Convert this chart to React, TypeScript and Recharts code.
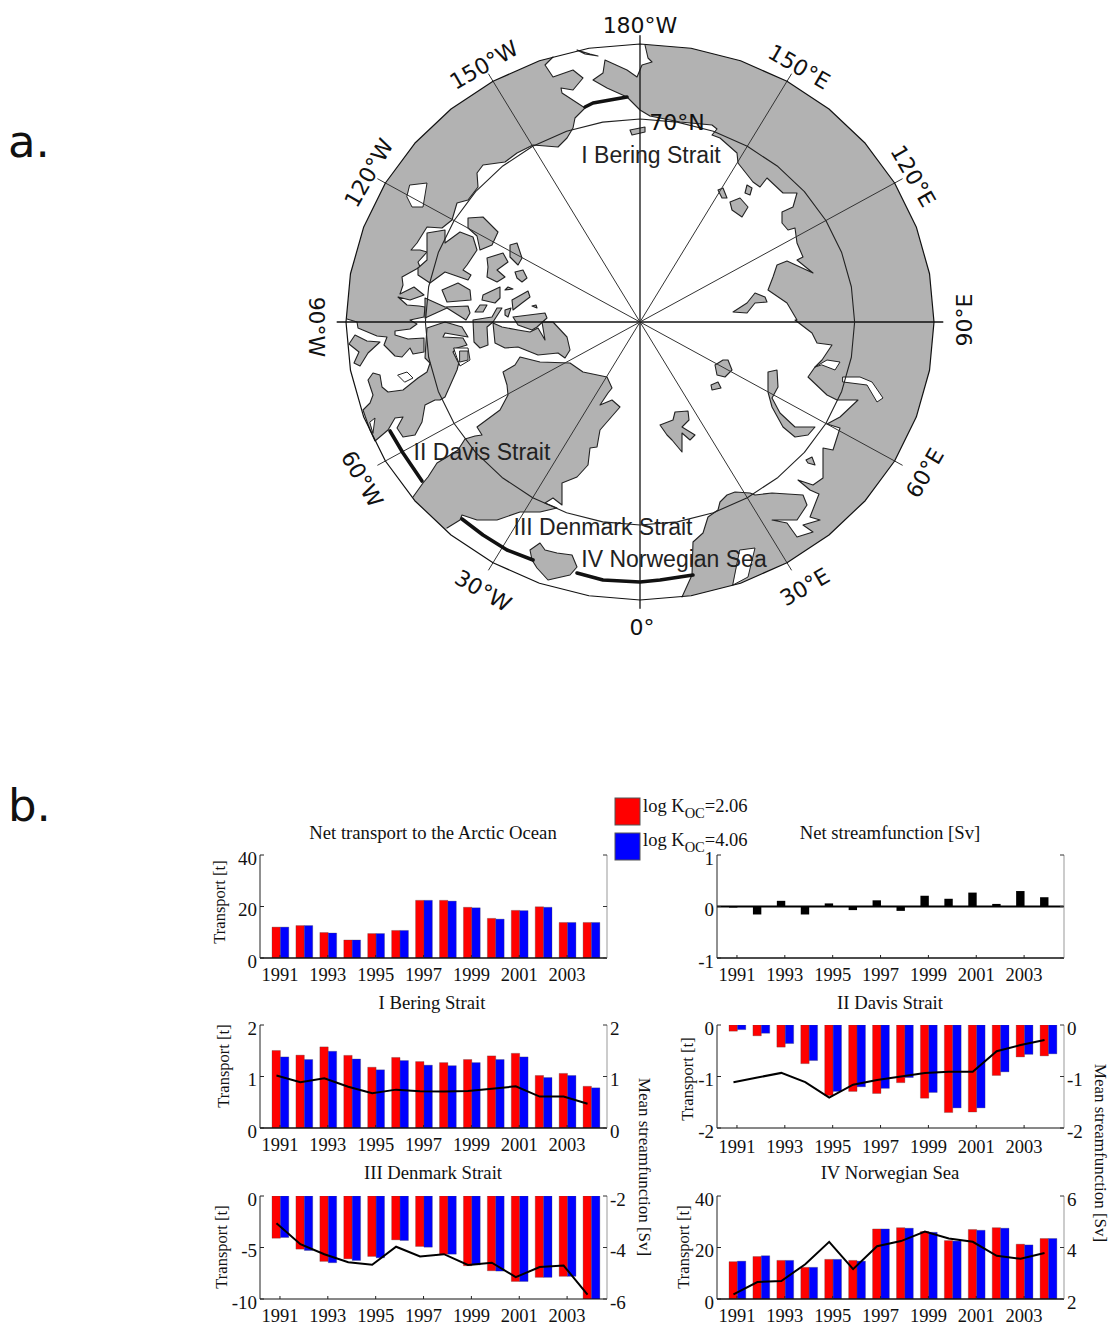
import { Bar, ComposedChart, Line, ReferenceLine, Scatter, ScatterChart, XAxis, YAxis } from "recharts";

// ---- panel b: values ----
const years = [1991, 1992, 1993, 1994, 1995, 1996, 1997, 1998, 1999, 2000, 2001, 2002, 2003, 2004];

const netRed = [12.0, 12.6, 9.9, 7.0, 9.5, 10.7, 22.4, 22.4, 19.7, 15.4, 18.5, 19.9, 13.8, 13.8];
const netBlue = [12.0, 12.6, 9.7, 7.0, 9.5, 10.7, 22.4, 22.1, 19.5, 15.1, 18.4, 19.7, 13.8, 13.8];
const netStream = [-0.02, -0.155, 0.11, -0.155, 0.06, -0.07, 0.12, -0.085, 0.21, 0.15, 0.27, 0.05, 0.3, 0.18];

const beringRed = [1.505, 1.415, 1.575, 1.41, 1.18, 1.37, 1.29, 1.27, 1.33, 1.4, 1.45, 1.02, 1.06, 0.81];
const beringBlue = [1.38, 1.33, 1.49, 1.34, 1.13, 1.31, 1.22, 1.21, 1.27, 1.33, 1.38, 0.98, 1.02, 0.78];
const beringLine = [1.02, 0.89, 0.965, 0.8, 0.675, 0.745, 0.715, 0.71, 0.72, 0.76, 0.81, 0.61, 0.61, 0.47];

const davisRed = [-0.12, -0.21, -0.43, -0.75, -1.37, -1.29, -1.33, -1.12, -1.42, -1.7, -1.69, -0.98, -0.62, -0.6];
const davisBlue = [-0.09, -0.16, -0.36, -0.69, -1.29, -1.2, -1.23, -1.02, -1.31, -1.61, -1.61, -0.91, -0.57, -0.56];
const davisLine = [-1.11, -1.02, -0.93, -1.11, -1.41, -1.16, -1.07, -1.0, -0.93, -0.91, -0.91, -0.51, -0.39, -0.29];

const denmarkRed = [-4.1, -5.16, -6.35, -6.1, -5.87, -4.26, -4.9, -5.65, -6.77, -7.26, -8.29, -7.9, -7.8, -10];
const denmarkBlue = [-4.03, -5.29, -6.48, -6.26, -6.0, -4.32, -4.97, -5.65, -6.7, -7.29, -8.29, -7.9, -7.8, -10];
const denmarkLine = [-3.06, -3.87, -4.26, -4.57, -4.67, -3.97, -4.35, -4.26, -4.68, -4.59, -5.15, -4.76, -4.7, -5.83];

const norwayRed = [14.5, 16.5, 15.0, 12.3, 15.4, 15.0, 27.2, 27.7, 26.2, 22.7, 27.0, 27.7, 21.3, 23.5];
const norwayBlue = [14.7, 16.8, 15.0, 12.3, 15.4, 14.7, 27.2, 27.5, 25.9, 22.5, 26.7, 27.5, 21.0, 23.5];
const norwayLine = [2.18, 2.66, 2.7, 3.35, 4.22, 3.16, 4.05, 4.25, 4.62, 4.35, 4.22, 3.68, 3.56, 3.79];

// ---- panel a: outlines on the map plane, pole at 0,0 ----
type P = [number, number];

const eurasiaCoast: P[] = [
  [5, -277], [8, -264], [12, -260], [2, -257], [-3, -245], [-13, -252], [-35, -262], [-37, -249], [-47, -242],
  [-33, -234], [-13, -225], [0, -212], [10, -206], [40, -200], [72, -197], [77, -193], [72, -187], [80, -184],
  [97, -169], [98, -159], [113, -140], [120, -135], [127, -144], [143, -129], [157, -129], [153, -115], [142, -110],
  [142, -99], [148, -92], [155, -94], [157, -79], [163, -65], [157, -62], [173, -49], [147, -61], [137, -57],
  [133, -45], [128, -32], [147, -19], [157, -2], [155, -2], [172, 11], [177, 21], [192, 23], [182, 38], [175, 45],
  [168, 55], [187, 73], [197, 78], [218, 78], [200, 95], [187, 102], [200, 106], [193, 128], [183, 126], [183, 156],
  [173, 163], [158, 158], [170, 168], [179, 172], [170, 195], [180, 198], [163, 203], [173, 210], [157, 215],
  [147, 201], [132, 198], [157, 198], [167, 183], [163, 173], [132, 171], [115, 173], [110, 171], [95, 170],
  [87, 173], [80, 180], [78, 188], [68, 195], [63, 211], [53, 220], [52, 253], [42, 275],
];
const atlanticRim: P[] = [[0, 284], [-60, 277], [-120, 260], [-160, 239], [-196, 212]];
const greenlandCoast: P[] = [
  [-193, 206], [-180, 198], [-178, 193], [-163, 198], [-143, 198], [-120, 190], [-100, 190], [-83, 186], [-95, 181],
  [-87, 176], [-78, 183], [-78, 161], [-63, 155], [-52, 143], [-50, 126], [-43, 125], [-40, 108], [-20, 85], [-28, 78],
  [-40, 83], [-32, 71], [-28, 66], [-33, 55], [-57, 50], [-70, 41], [-100, 40], [-120, 35], [-125, 43], [-137, 50],
  [-133, 63], [-132, 73], [-140, 88], [-163, 105], [-158, 113], [-165, 114], [-175, 117], [-182, 128], [-193, 135],
  [-203, 141], [-212, 155], [-217, 161], [-227, 175],
];
const labradorRim: P[] = [[-232, 180], [-252, 154], [-270, 122], [-288, 70], [-297, 30], [-297, -3]];
const americaCoast: P[] = [
  [-293, -3], [-283, 0], [-282, 6], [-263, 14], [-253, 15], [-256, 23], [-245, 34], [-238, 35], [-230, 26], [-227, 32],
  [-216, 30], [-216, 16], [-232, 17], [-245, 13], [-245, 9], [-230, 7], [-223, 2], [-230, -2], [-216, -5], [-215, -15],
  [-221, -16], [-233, -17], [-242, -25], [-230, -22], [-216, -27], [-226, -35], [-240, -28], [-237, -37], [-238, -45],
  [-220, -55], [-222, -60], [-213, -70], [-220, -72], [-229, -72], [-223, -79], [-213, -95], [-198, -94], [-188, -102],
  [-183, -119], [-172, -122], [-162, -135], [-163, -149], [-157, -157], [-135, -160], [-123, -169], [-107, -177],
  [-82, -175], [-73, -184], [-67, -194], [-65, -204], [-55, -214], [-78, -229], [-79, -234], [-67, -232], [-57, -244],
  [-67, -252], [-87, -245], [-95, -257], [-87, -265],
];
const beringRim: P[] = [[-60, -277], [-30, -282], [5, -282]];

const landMasses: P[][] = [
  // Baffin, Quebec, Labrador
  [[-213, 6], [-195, 0], [-178, 5], [-172, 15], [-195, 11], [-197, 15], [-177, 16], [-173, 23], [-183, 26], [-187, 30],
   [-182, 40], [-180, 36], [-183, 48], [-195, 75], [-200, 78], [-205, 78], [-215, 83], [-218, 100], [-225, 113],
   [-237, 115], [-243, 106], [-237, 95], [-245, 96], [-252, 108], [-265, 119], [-270, 108], [-277, 88], [-270, 81],
   [-267, 73], [-272, 58], [-267, 51], [-260, 53], [-258, 65], [-252, 70], [-237, 68], [-222, 56], [-213, 50],
   [-210, 41], [-215, 36], [-214, 20]],
  [[-213, -89], [-195, -92], [-195, -79], [-180, -90], [-167, -85], [-163, -72], [-173, -57], [-177, -52], [-169, -47],
   [-172, -42], [-195, -50], [-210, -39], [-222, -47], [-222, -54], [-213, -62]],
  [[-172, -104], [-157, -105], [-142, -90], [-148, -77], [-160, -72], [-163, -86], [-172, -94]],
  [[-130, -77], [-123, -79], [-118, -64], [-122, -57], [-130, -65]],
  [[-153, -64], [-137, -69], [-132, -60], [-143, -52], [-135, -45], [-143, -40], [-153, -45], [-152, -55]],
  [[-125, -50], [-117, -52], [-113, -44], [-118, -40], [-123, -44]],
  [[-198, -32], [-182, -39], [-170, -32], [-169, -22], [-193, -20]],
  [[-215, -24], [-195, -15], [-172, -16], [-170, -9], [-174, -2], [-193, -14], [-215, -4]],
  [[-157, -27], [-140, -35], [-140, -24], [-145, -19], [-158, -22]],
  [[-128, -22], [-112, -31], [-110, -25], [-118, -19], [-127, -12]],
  [[-135, -32], [-127, -33], [-132, -35]],
  [[-160, -17], [-153, -17], [-157, -10], [-165, -10]],
  [[-167, -2], [-148, -5], [-143, -14], [-138, -14], [-147, 0], [-153, 5], [-152, 23], [-160, 26], [-166, 20]],
  [[-135, -12], [-129, -14], [-132, -5], [-135, -7]],
  [[-108, -16], [-104, -17], [-103, -14]],
  [[-127, -5], [-95, -9], [-93, -4], [-103, 5], [-108, 8], [-122, 3]],
  [[-147, 1], [-138, 5], [-122, 8], [-110, 10], [-102, 6], [-95, 18], [-98, 0], [-87, 0], [-73, 15], [-70, 28],
   [-75, 36], [-82, 31], [-102, 33], [-122, 25], [-135, 26], [-145, 21]],
  [[-291, 22], [-285, 13], [-273, 19], [-260, 20], [-272, 31], [-280, 44], [-286, 41], [-281, 30]],
  // Iceland
  [[-110, 228], [-100, 221], [-95, 228], [-83, 231], [-68, 233], [-63, 245], [-70, 253], [-92, 258], [-103, 246], [-108, 238]],
  // Svalbard, Franz Josef Land, Novaya Zemlya
  [[20, 103], [33, 98], [35, 90], [48, 89], [49, 98], [42, 105], [55, 113], [50, 118], [42, 111], [42, 130], [32, 118], [27, 113]],
  [[75, 43], [83, 38], [88, 38], [92, 48], [85, 55], [77, 53]],
  [[71, 63], [78, 60], [81, 66], [72, 68]],
  [[128, 50], [137, 48], [138, 65], [132, 76], [140, 91], [155, 105], [175, 105], [168, 113], [155, 115], [143, 105], [132, 85], [128, 70]],
  [[166, 138], [172, 135], [175, 143], [168, 141]],
  // Siberian islands
  [[78, -132], [83, -134], [87, -124], [82, -124]],
  [[107, -137], [112, -134], [110, -127], [105, -129]],
  [[90, -120], [100, -124], [108, -115], [102, -105], [92, -112]],
  [[115, -29], [125, -25], [127, -20], [115, -19], [107, -9], [93, -10], [107, -19]],
  [[-10, -192], [5, -195], [5, -190], [-8, -187]],
  [[-63, -272], [-50, -268], [-42, -266], [-55, -268]],
];
const lakes: P[][] = [
  [[-230, -137], [-213, -139], [-217, -115], [-228, -115], [-233, -125]],
  [[-242, 53], [-233, 50], [-227, 56], [-235, 60]],
  [[-270, 100], [-265, 96], [-267, 111]],
  [[-186, 26], [-172, 26], [-170, 38], [-180, 44], [-183, 36]],
  [[175, 45], [187, 38], [200, 40], [195, 48], [182, 43]],
  [[203, 55], [220, 55], [232, 60], [243, 76], [237, 80], [227, 63], [203, 60]],
];
const lakeIslands: P[][] = [[[-180, 29], [-172, 29], [-172, 38], [-180, 40]]];
const balticSea: P[] = [[100, 228], [115, 226], [108, 255], [93, 263]];

const straitSections: P[][] = [
  [[-55, -215], [-47, -219], [-13, -225]],
  [[-250, 109], [-237, 131], [-218, 159]],
  [[-178, 197], [-157, 213], [-133, 228], [-107, 238]],
  [[-63, 251], [-37, 258], [0, 260], [20, 258], [53, 253]],
];

const meridians = [0, 30, 60, 90, 120, 150];
const circleLons = [
  -180, -170, -160, -150, -140, -130, -120, -110, -100, -90, -80, -70, -60, -50, -40, -30, -20, -10,
  0, 10, 20, 30, 40, 50, 60, 70, 80, 90, 100, 110, 120, 130, 140, 150, 160, 170,
];

const lonLabels = ["180°W", "150°W", "120°W", "90°W", "60°W", "30°W", "0°", "30°E", "60°E", "90°E", "120°E", "150°E"];
const lonLabelX = [0, -156, -271, -324, -278, -157, 2, 165, 285, 324, 273, 159];
const lonLabelY = [-297, -257, -149, 5, 157, 269, 305, 265, 151, -2, -146, -255];
const lonLabelTurn = [0, -30, -60, 90, 60, 30, 0, -30, -60, -90, 60, 30];

const regionLabels = ["I Bering Strait", "II Davis Strait", "III Denmark Strait", "IV Norwegian Sea"];
const regionLabelX = [11, -158, -37, 34];
const regionLabelY = [-167, 130, 205, 237];

const RIM_X = 294;
const RIM_Y = 278;
const INNER = 0.73;
const LAND = "#b2b2b2";

const project = (lon: number, r: number) => ({
  x: RIM_X * r * Math.sin((lon * Math.PI) / 180),
  y: RIM_Y * r * Math.cos((lon * Math.PI) / 180),
});
const toRows = (pts: P[]) => pts.map(([x, y]) => ({ x, y }));
const noDot = () => null;

const outline = (fill: string, stroke: string, width: number, closed: boolean) => (props: any) => {
  const pts = props.points as { x: number; y: number }[];
  const d = pts.map((p, i) => `${i ? "L" : "M"}${p.x} ${p.y}`).join(" ") + (closed ? " Z" : "");
  return <path d={d} fill={fill} stroke={stroke} strokeWidth={width} strokeLinejoin="round" strokeLinecap="round" />;
};

const textLabel = (family: string, size: number, color: string) => (props: any) => {
  const { cx, cy, payload } = props;
  return (
    <text
      x={cx}
      y={cy}
      fontFamily={family}
      fontSize={size}
      fill={color}
      textAnchor="middle"
      dominantBaseline="central"
      transform={`rotate(${payload.turn} ${cx} ${cy})`}
    >
      {payload.label}
    </text>
  );
};

function scatterShape(key: string, pts: { x: number; y: number }[], draw: any) {
  return <Scatter key={key} data={pts} line={draw} shape={noDot} isAnimationActive={false} />;
}

function ArcticMap() {
  const disc = circleLons.map((l) => project(l, 1));
  const inner = [...circleLons, 180].map((l) => project(l, INNER));
  const ocean = [...eurasiaCoast, ...atlanticRim, ...greenlandCoast, ...labradorRim, ...americaCoast, ...beringRim];
  const lonRows = lonLabels.map((label, i) => ({ x: lonLabelX[i], y: lonLabelY[i], label, turn: lonLabelTurn[i] }));
  const regionRows = regionLabels.map((label, i) => ({ x: regionLabelX[i], y: regionLabelY[i], label, turn: 0 }));
  return (
    <div style={{ position: "absolute", left: 290, top: 2, width: 700, height: 640 }}>
      <ScatterChart width={700} height={640} margin={{ top: 0, right: 0, bottom: 0, left: 0 }}>
        <XAxis type="number" dataKey="x" domain={[-350, 350]} hide />
        <YAxis type="number" dataKey="y" domain={[-320, 320]} reversed hide width={0} />
        {scatterShape("disc", disc, outline(LAND, "none", 0, true))}
        {scatterShape("ocean", toRows(ocean), outline("#fff", "none", 0, true))}
        {[eurasiaCoast, greenlandCoast, americaCoast].map((c, i) => scatterShape(`coast${i}`, toRows(c), outline("none", "#222", 1.1, false)))}
        {landMasses.map((m, i) => scatterShape(`land${i}`, toRows(m), outline(LAND, "#222", 1.1, true)))}
        {lakes.map((m, i) => scatterShape(`lake${i}`, toRows(m), outline("#fff", "#222", 1, true)))}
        {lakeIslands.map((m, i) => scatterShape(`li${i}`, toRows(m), outline(LAND, "#222", 1, true)))}
        {scatterShape("baltic", toRows(balticSea), outline("#fff", "#222", 1, true))}
        {meridians.map((lon) =>
          scatterShape(`m${lon}`, [project(lon, 1.03), project(lon + 180, 1.03)], outline("none", lon % 90 === 0 ? "#111" : "#333", lon % 90 === 0 ? 1.3 : 1, false)),
        )}
        {scatterShape("inner", inner, outline("none", "#222", 1.1, false))}
        {scatterShape("rim", [...disc, disc[0]], outline("none", "#111", 1.2, false))}
        {straitSections.map((s, i) => scatterShape(`strait${i}`, toRows(s), outline("none", "#111", 3.6, false)))}
        <Scatter data={regionRows} shape={textLabel("Liberation Sans", 23, "#222")} isAnimationActive={false} />
        <Scatter data={lonRows} shape={textLabel("DejaVu Sans", 22, "#111")} isAnimationActive={false} />
        <Scatter data={[{ x: 37, y: -200, label: "70°N", turn: 0 }]} shape={textLabel("DejaVu Sans", 22, "#111")} isAnimationActive={false} />
      </ScatterChart>
    </div>
  );
}

// ---- panel b charts ----
const PLOT_W = 347;
const PLOT_H = 103;
const SERIF = "Liberation Serif";

type PanelProps = {
  left: number;
  top: number;
  red?: number[];
  blue?: number[];
  net?: number[];
  line?: number[];
  domain: [number, number];
  ticks: number[];
  rightDomain?: [number, number];
  rightTicks?: number[];
  boxed?: boolean;
  topLine?: boolean;
  labelDrop?: number;
};

function Panel({ left, top, red, blue, net, line, domain, ticks, rightDomain, rightTicks, boxed, topLine, labelDrop = 17 }: PanelProps) {
  const rows = years.map((year, i) => ({
    year,
    red: red?.[i],
    blue: blue?.[i],
    net: net?.[i],
    spare: null,
    line: line?.[i],
  }));
  const xTick = (p: any) => (
    <g>
      <line x1={p.x} x2={p.x} y1={p.y} y2={p.y - 3} stroke="#222" />
      <text x={p.x} y={p.y + labelDrop} fontFamily={SERIF} fontSize={18.5} fill="#111" textAnchor="middle" dominantBaseline="central">
        {p.payload.value}
      </text>
    </g>
  );
  const topTick = (p: any) => <line x1={p.x} x2={p.x} y1={p.y} y2={p.y + 3} stroke="#222" />;
  const leftTick = (p: any) => (
    <g>
      <line x1={p.x} x2={p.x + 4} y1={p.y} y2={p.y} stroke="#222" />
      <text x={p.x - 3} y={p.y + 3} fontFamily={SERIF} fontSize={19} fill="#111" textAnchor="end" dominantBaseline="central">
        {p.payload.value}
      </text>
    </g>
  );
  const rightTick = (p: any) => (
    <g>
      <line x1={p.x} x2={p.x - 4} y1={p.y} y2={p.y} stroke="#333" />
      {rightTicks && (
        <text x={p.x + 3} y={p.y + 3} fontFamily={SERIF} fontSize={19} fill="#111" textAnchor="start" dominantBaseline="central">
          {p.payload.value}
        </text>
      )}
    </g>
  );
  return (
    <div style={{ position: "absolute", left: left - 50, top: top - 10, width: PLOT_W + 100, height: PLOT_H + 40 }}>
      <ComposedChart
        width={PLOT_W + 100}
        height={PLOT_H + 40}
        data={rows}
        barGap={0}
        barSize={8.4}
        margin={{ top: 10, right: 0, bottom: 0, left: 0 }}
      >
        <XAxis
          xAxisId="years"
          dataKey="year"
          interval={1}
          height={30}
          padding={{ left: 8, right: 4 }}
          tickSize={0}
          tickMargin={0}
          tickLine={false}
          tick={xTick}
          axisLine={{ stroke: "#111", strokeWidth: domain[1] > 0 ? 1.6 : 1 }}
        />
        {(boxed || topLine) && (
          <XAxis
            xAxisId="top"
            orientation="top"
            dataKey="year"
            interval={1}
            height={0}
            padding={{ left: 8, right: 4 }}
            tickSize={0}
            tickMargin={0}
            tickLine={false}
            tick={boxed ? topTick : false}
            axisLine={{ stroke: "#777" }}
          />
        )}
        <XAxis xAxisId="trend" orientation="top" height={0} dataKey="year" hide padding={{ left: 4.5, right: 7.5 }} />
        <YAxis
          yAxisId="left"
          width={50}
          domain={domain}
          ticks={ticks}
          allowDataOverflow
          tickSize={0}
          tickMargin={0}
          tickLine={false}
          tick={leftTick}
          axisLine={{ stroke: "#222" }}
        />
        <YAxis
          yAxisId="right"
          orientation="right"
          width={50}
          domain={rightDomain ?? domain}
          ticks={rightTicks ?? ticks}
          allowDataOverflow
          tickSize={0}
          tickMargin={0}
          tickLine={false}
          tick={rightTick}
          axisLine={{ stroke: "#999" }}
        />
        {red && <Bar xAxisId="years" yAxisId="left" dataKey="red" fill="#ff0000" stroke="#444" strokeWidth={0.3} isAnimationActive={false} />}
        {blue && <Bar xAxisId="years" yAxisId="left" dataKey="blue" fill="#0000ff" stroke="#444" strokeWidth={0.3} isAnimationActive={false} />}
        {net && <Bar xAxisId="years" yAxisId="left" dataKey="net" fill="#000" isAnimationActive={false} />}
        {net && <Bar xAxisId="years" yAxisId="left" dataKey="spare" fill="none" isAnimationActive={false} />}
        {net && <ReferenceLine xAxisId="years" yAxisId="left" y={0} stroke="#000" strokeWidth={2} />}
        {line && (
          <Line xAxisId="trend" yAxisId="right" dataKey="line" stroke="#000" strokeWidth={2} dot={false} type="linear" isAnimationActive={false} />
        )}
      </ComposedChart>
    </div>
  );
}

const titles = ["Net transport to the Arctic Ocean", "Net streamfunction [Sv]", "I Bering Strait", "II Davis Strait", "III Denmark Strait", "IV Norwegian Sea"];
const titleX = [433, 890, 432, 890, 433, 890];
const titleY = [832, 832, 1002, 1002, 1172, 1172];
const transportX = [219, 223, 687, 221, 683];
const transportY = [902, 1066, 1079, 1247, 1247];

function Overlay() {
  const common = { fontFamily: SERIF, fill: "#111" };
  return (
    <svg width={1108} height={1322} style={{ position: "absolute", left: 0, top: 0, pointerEvents: "none" }}>
      <text x={8} y={157} fontFamily="DejaVu Sans" fontSize={45} fill="#111">a.</text>
      <text x={8} y={821} fontFamily="DejaVu Sans" fontSize={45} fill="#111">b.</text>
      {titles.map((t, i) => (
        <text key={t} x={titleX[i]} y={titleY[i]} fontSize={18.7} textAnchor="middle" dominantBaseline="central" {...common}>{t}</text>
      ))}
      {transportX.map((x, i) => (
        <text key={i} x={x} y={transportY[i]} fontSize={16.5} textAnchor="middle" dominantBaseline="central" transform={`rotate(-90 ${x} ${transportY[i]})`} {...common}>
          Transport [t]
        </text>
      ))}
      <text x={644} y={1167} fontSize={17} textAnchor="middle" dominantBaseline="central" transform="rotate(90 644 1167)" {...common}>Mean streamfunction [Sv]</text>
      <text x={1100} y={1153} fontSize={17} textAnchor="middle" dominantBaseline="central" transform="rotate(90 1100 1153)" {...common}>Mean streamfunction [Sv]</text>
      <rect x={615} y={798} width={25} height={27} fill="#ff0000" stroke="#555" />
      <rect x={615} y={833} width={25} height={27} fill="#0000ff" stroke="#555" />
      <text x={643} y={812} fontSize={18.5} {...common}>log K<tspan dy={6} fontSize={14.5}>OC</tspan><tspan dy={-6}>=2.06</tspan></text>
      <text x={643} y={846} fontSize={18.5} {...common}>log K<tspan dy={6} fontSize={14.5}>OC</tspan><tspan dy={-6}>=4.06</tspan></text>
    </svg>
  );
}

export default function App() {
  return (
    <div style={{ position: "absolute", left: 0, top: 0, width: 1108, height: 1322, background: "#fff", overflow: "hidden" }}>
      <ArcticMap />
      <Panel left={260} top={855} red={netRed} blue={netBlue} domain={[0, 40]} ticks={[0, 20, 40]} boxed />
      <Panel left={717} top={855} net={netStream} domain={[-1, 1]} ticks={[-1, 0, 1]} boxed />
      <Panel left={260} top={1025} red={beringRed} blue={beringBlue} line={beringLine} domain={[0, 2]} ticks={[0, 1, 2]} rightDomain={[0, 2]} rightTicks={[0, 1, 2]} />
      <Panel left={717} top={1025} red={davisRed} blue={davisBlue} line={davisLine} domain={[-2, 0]} ticks={[-2, -1, 0]} rightDomain={[-2, 0]} rightTicks={[-2, -1, 0]} topLine labelDrop={19} />
      <Panel left={260} top={1196} red={denmarkRed} blue={denmarkBlue} line={denmarkLine} domain={[-10, 0]} ticks={[-10, -5, 0]} rightDomain={[-6, -2]} rightTicks={[-6, -4, -2]} topLine labelDrop={16.5} />
      <Panel left={717} top={1196} red={norwayRed} blue={norwayBlue} line={norwayLine} domain={[0, 40]} ticks={[0, 20, 40]} rightDomain={[2, 6]} rightTicks={[2, 4, 6]} labelDrop={16.5} />
      <Overlay />
    </div>
  );
}
